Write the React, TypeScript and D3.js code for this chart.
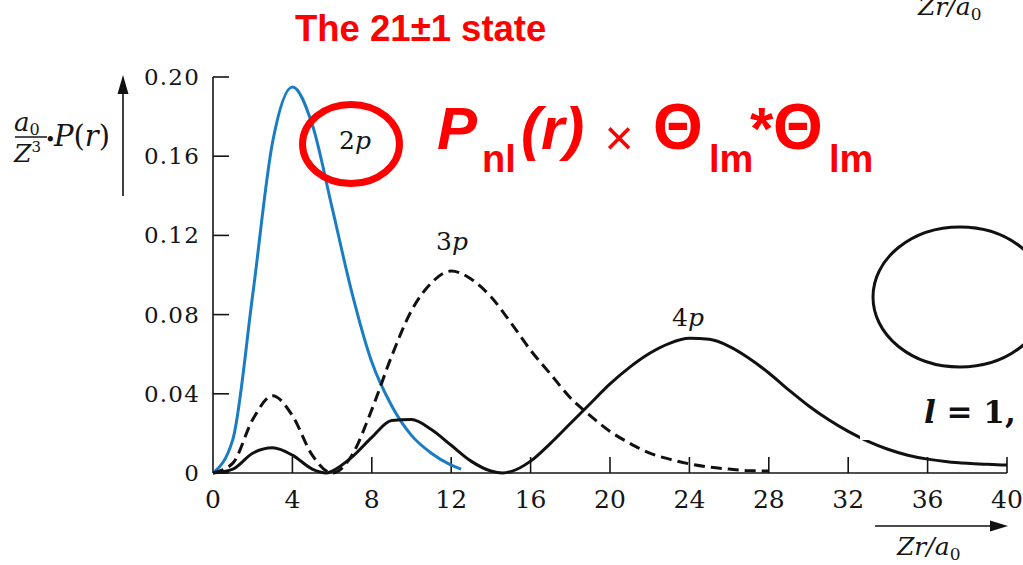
// Radial probability densities for the l = 1 states, drawn with D3
import React from 'react';
import * as d3 from 'd3';

const xTicks = [0, 4, 8, 12, 16, 20, 24, 28, 32, 36, 40];
const yTicks = [0, 0.04, 0.08, 0.12, 0.16, 0.2];
const yTickLabels = ['0', '0.04', '0.08', '0.12', '0.16', '0.20'];

// 2p (blue)
const r2p = [0, 1, 2, 3, 4, 5, 6, 7, 8, 9, 10, 11, 12, 12.5];
const p2p = [0, 0.017, 0.09, 0.167, 0.195, 0.176, 0.134, 0.091, 0.056, 0.034, 0.019, 0.01, 0.004, 0.002];

// 3p (dashed)
const r3p = [0, 1, 2, 3, 4, 5, 6, 7, 8, 9, 10, 11, 12, 13, 14, 15, 16, 17, 18, 19, 20, 21, 22, 23, 24, 25, 26, 27, 28];
const p3p = [0, 0.005, 0.027, 0.039, 0.029, 0.009, 0, 0.009, 0.032, 0.059, 0.082, 0.096, 0.102, 0.098, 0.089,
  0.076, 0.062, 0.05, 0.038, 0.029, 0.021, 0.015, 0.01, 0.007, 0.0046, 0.003, 0.002, 0.0012, 0.001];

// 4p (solid black)
const r4p = [0, 1, 2, 3, 4, 5, 5.7, 6, 7, 8, 9, 10, 11, 12, 13, 14, 14.6, 15, 16, 17, 18, 19, 20, 21, 22, 23, 24,
  25, 26, 27, 28, 29, 30, 31, 32, 33, 34, 35, 36, 37, 38, 39, 40];
const p4p = [0, 0.002, 0.01, 0.0127, 0.009, 0.002, 0, 0.001, 0.008, 0.018, 0.0265, 0.027, 0.022, 0.014, 0.006,
  0.001, 0, 0.0007, 0.006, 0.015, 0.025, 0.035, 0.045, 0.0535, 0.0605, 0.0655, 0.068, 0.0675, 0.064, 0.058,
  0.0505, 0.042, 0.034, 0.027, 0.021, 0.016, 0.012, 0.009, 0.007, 0.0057, 0.0049, 0.0044, 0.004];

const serif = 'DejaVu Serif, serif';
const sans = 'Liberation Sans, Arial, sans-serif';
const ink = '#151515';
const red = '#f00';

export default function App() {
  const x = d3.scaleLinear().domain([0, 40]).range([213, 1007]);
  const y = d3.scaleLinear().domain([0, 0.2]).range([473, 77]);

  const line = d3.line<[number, number]>()
    .x(d => x(d[0]))
    .y(d => y(d[1]))
    .curve(d3.curveMonotoneX);

  const path = (rs: number[], ps: number[]) => line(rs.map((r, i) => [r, ps[i]] as [number, number])) || '';

  return (
    <svg width={1023} height={565} style={{ position: 'absolute', left: 0, top: 0, background: '#fff' }}>
      <rect width={1023} height={565} fill="#fff" />

      {/* axes */}
      <line x1={x(0)} x2={x(0)} y1={y(0.2)} y2={y(0)} stroke={ink} strokeWidth={1.6} />
      <line x1={x(0)} x2={x(40)} y1={y(0)} y2={y(0)} stroke={ink} strokeWidth={1.6} />
      {yTicks.map((t, i) => (
        <g key={'y' + t}>
          <line x1={x(0)} x2={x(0) + 16} y1={y(t)} y2={y(t)} stroke={ink} strokeWidth={1.6} />
          <text x={200} y={y(t) + 8} textAnchor="end" fontFamily={serif} fontSize={23}
            letterSpacing={1.2} fill={ink}>{yTickLabels[i]}</text>
        </g>
      ))}
      {xTicks.map(t => (
        <g key={'x' + t}>
          {t > 0 && <line x1={x(t)} x2={x(t)} y1={y(0)} y2={y(0) - 16} stroke={ink} strokeWidth={1.6} />}
          <text x={x(t)} y={508} textAnchor="middle" fontFamily={serif} fontSize={25} fill={ink}>{t}</text>
        </g>
      ))}

      {/* curves */}
      <path d={path(r2p, p2p)} fill="none" stroke="#1a7dc4" strokeWidth={3} />
      <path d={path(r3p, p3p)} fill="none" stroke="#111" strokeWidth={3} strokeDasharray="11,6" />
      <path d={path(r4p, p4p)} fill="none" stroke="#111" strokeWidth={3} />
      <rect x={860} y={420} width={16} height={20} fill="#fff" />

      {/* curve labels */}
      <text x={355} y={149} textAnchor="middle" fontFamily={serif} fontSize={25} fill={ink}>
        2<tspan fontStyle="italic">p</tspan></text>
      <text x={452} y={250} textAnchor="middle" fontFamily={serif} fontSize={25} fill={ink}>
        3<tspan fontStyle="italic">p</tspan></text>
      <text x={688} y={326} textAnchor="middle" fontFamily={serif} fontSize={25} fill={ink}>
        4<tspan fontStyle="italic">p</tspan></text>

      {/* y axis label */}
      <line x1={123} x2={123} y1={196} y2={90} stroke="#111" strokeWidth={1.6} />
      <path d="M123,75 L117.5,94 L128.5,94 Z" fill="#111" />
      <text x={14} y={131} fontFamily={serif} fill={ink}>
        <tspan fontSize={26} fontStyle="italic">a</tspan>
        <tspan fontSize={16} dy={4}>0</tspan>
      </text>
      <line x1={15} x2={47} y1={137} y2={137} stroke={ink} strokeWidth={1.5} />
      <text x={14} y={162} fontFamily={serif} fill={ink}>
        <tspan fontSize={25} fontStyle="italic">Z</tspan>
        <tspan fontSize={15} dy={-10}>3</tspan>
      </text>
      <text x={45} y={146} fontFamily={serif} fontSize={18} fill={ink}>•</text>
      <text x={54} y={146} fontFamily={serif} fontSize={29} fill={ink}>
        <tspan fontStyle="italic">P</tspan>(<tspan fontStyle="italic">r</tspan>)</text>

      {/* x axis label */}
      <line x1={875} x2={994} y1={526} y2={526} stroke="#111" strokeWidth={1.6} />
      <path d="M1008,526 L990,520.5 L990,531.5 Z" fill="#111" />
      <text x={897} y={555} fontFamily={serif} fill={ink}>
        <tspan fontSize={25} fontStyle="italic">Zr/a</tspan>
        <tspan fontSize={17} dy={5}>0</tspan>
      </text>

      {/* cropped label at top right */}
      <text x={918} y={15} fontFamily={serif} fill={ink}>
        <tspan fontSize={25} fontStyle="italic">Zr/a</tspan>
        <tspan fontSize={17} dy={5}>0</tspan>
      </text>

      {/* orbital sketch */}
      <ellipse cx={960} cy={297} rx={87} ry={70} fill="none" stroke="#111" strokeWidth={3} />
      <text x={924} y={423} fontFamily={serif} fontWeight="bold" fontSize={31} fill="#111">
        <tspan fontStyle="italic">l</tspan> = 1, 2</text>

      {/* red annotations */}
      <text x={295} y={41} fontFamily={sans} fontWeight="bold" fontSize={36.5} fill={red}>The 21±1 state</text>
      <ellipse cx={351} cy={144} rx={48.5} ry={39.5} fill="none" stroke={red} strokeWidth={7} />
      <g fontFamily={sans} fill={red} fontWeight="bold">
        <text x={437} y={149} fontSize={60} fontStyle="italic">P</text>
        <text x={482} y={172} fontSize={38}>nl</text>
        <text x={521} y={149} fontSize={60} fontStyle="italic">(r)</text>
        <text x={619} y={155} fontSize={50} fontWeight="normal" textAnchor="middle">×</text>
        <text x={653} y={149} fontSize={64}>Θ</text>
        <text x={709} y={172} fontSize={38}>lm</text>
        <text x={750} y={149} fontSize={60}>*</text>
        <text x={773} y={149} fontSize={64}>Θ</text>
        <text x={829} y={172} fontSize={38}>lm</text>
      </g>
    </svg>
  );
}
